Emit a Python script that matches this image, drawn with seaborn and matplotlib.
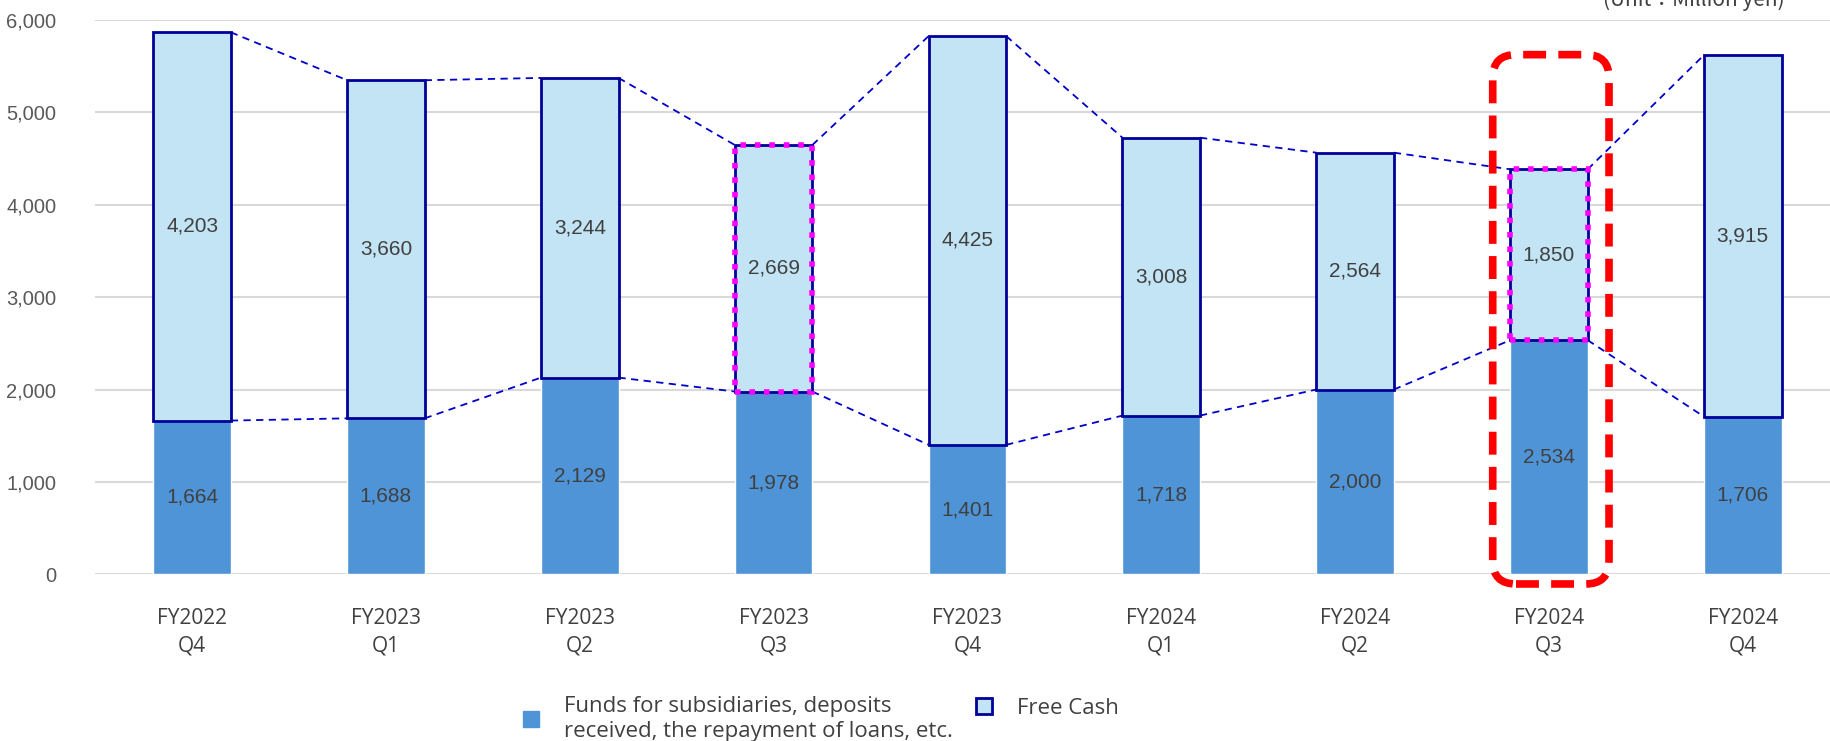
import numpy as np
import pandas as pd
import matplotlib
matplotlib.use("Agg")
import matplotlib.pyplot as plt
from matplotlib.patches import FancyBboxPatch, Rectangle
from matplotlib.lines import Line2D
import seaborn as sns

# data
periods = ["FY2022\nQ4", "FY2023\nQ1", "FY2023\nQ2", "FY2023\nQ3", "FY2023\nQ4",
           "FY2024\nQ1", "FY2024\nQ2", "FY2024\nQ3", "FY2024\nQ4"]
funds = [1664, 1688, 2129, 1978, 1401, 1718, 2000, 2534, 1706]
free_cash = [4203, 3660, 3244, 2669, 4425, 3008, 2564, 1850, 3915]
highlight_q3 = [3, 7]
focus = 7

funds_label = "Funds for subsidiaries, deposits\nreceived, the repayment of loans, etc."
free_label = "Free Cash"

c_funds = "#4F94D7"
c_free = "#C2E4F4"
c_edge = "#000099"
c_text = "#404040"

sns.set_style("white")
plt.rcParams["font.family"] = ["Liberation Sans", "DejaVu Sans"]

df = pd.DataFrame({"period": periods, "funds": funds, "free": free_cash})
df["total"] = df["funds"] + df["free"]

fig = plt.figure(figsize=(18.3, 7.41), dpi=100)
ax = fig.add_axes([0.052, 0.225, 0.948, 0.748])

w = 0.4
sns.barplot(data=df, x="period", y="funds", color=c_funds, width=w,
            saturation=1, ax=ax, zorder=2)
x = np.arange(len(df))
ax.bar(x, df["free"], bottom=df["funds"], width=w, color=c_free,
       edgecolor=c_edge, linewidth=2, zorder=3)

# dashed connectors between bars
for i in range(len(df) - 1):
    for col in ["total", "funds"]:
        ax.plot([x[i] + w / 2, x[i + 1] - w / 2],
                [df[col][i], df[col][i + 1]],
                color="#0000CC", lw=1.3, ls=(0, (4, 3)), zorder=1)

# value labels
for i in range(len(df)):
    ax.text(x[i], df["funds"][i] / 2, f"{df['funds'][i]:,}", ha="center",
            va="center", fontsize=15, color=c_text, zorder=5)
    ax.text(x[i], df["funds"][i] + df["free"][i] / 2, f"{df['free'][i]:,}",
            ha="center", va="center", fontsize=15, color=c_text, zorder=5)

# magenta dotted highlight on Q3 free cash
for i in highlight_q3:
    ax.add_patch(Rectangle((x[i] - w / 2, df["funds"][i]), w, df["free"][i],
                           fill=False, edgecolor="#FF00FF", lw=4,
                           ls=(0, (1, 1.6)), zorder=4))

# red dashed rounded frame on latest Q3
ax.add_patch(FancyBboxPatch((x[focus] - 0.24, 0), 0.5, 5520,
                            boxstyle="round,pad=0.05,rounding_size=0.12",
                            mutation_aspect=2100, fill=False,
                            edgecolor="#FF0000", lw=5.5, ls=(0, (3, 1.6)),
                            zorder=6, clip_on=False))

ax.set_ylim(0, 6000)
ax.set_xlim(-0.5, 8.45)
ax.set_yticks(range(0, 6001, 1000))
ax.set_yticklabels([f"{v:,}" for v in range(0, 6001, 1000)])
ax.yaxis.grid(True, color="#D9D9D9", lw=1.5, zorder=0)
ax.set_axisbelow(True)
for s in ax.spines.values():
    s.set_visible(False)
ax.tick_params(axis="y", length=0, labelsize=14.5, labelcolor="#595959", pad=28)
ax.tick_params(axis="x", length=0, pad=24)
for lab in ax.get_xticklabels():
    lab.set_fontfamily(["Open Sans", "DejaVu Sans"])
    lab.set_fontsize(15)
    lab.set_color(c_text)
    lab.set_linespacing(1.45)
ax.set_xlabel("")
ax.set_ylabel("")

fig.text(0.975, 1.0, "(Unit：Million yen)", ha="right", va="center",
         fontsize=15, color=c_text, family=["Noto Sans CJK JP", "DejaVu Sans"])

h_funds = Line2D([], [], marker="s", ls="none", markersize=11,
                 markerfacecolor=c_funds, markeredgecolor=c_funds)
h_free = Line2D([], [], marker="s", ls="none", markersize=11,
                markerfacecolor=c_free, markeredgecolor=c_edge, markeredgewidth=2)
leg_kw = dict(loc="center left", frameon=False, labelcolor=c_text,
              prop={"family": "Open Sans", "size": 16}, handletextpad=0.5)
leg1 = fig.legend([h_funds], [funds_label], bbox_to_anchor=(0.267, 0.03), **leg_kw)
for t in leg1.get_texts():
    t.set_linespacing(1.25)
fig.legend([h_free], [free_label], bbox_to_anchor=(0.5145, 0.044), **leg_kw)

fig.savefig("out.png", dpi=100)
